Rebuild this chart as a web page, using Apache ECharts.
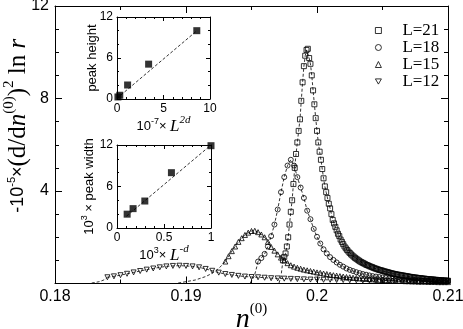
<!DOCTYPE html>
<html>
<head>
<meta charset="utf-8">
<script src="https://cdn.jsdelivr.net/npm/echarts@6/dist/echarts.min.js"></script>
<style>
html, body { margin: 0; padding: 0; background: #fff; }
#chart { width: 463px; height: 329px; }
</style>
</head>
<body>
<div id="chart"></div>
<script>
var grid21 = [0.1974, 0.0001];
var y21 = [1.0, 1.15, 1.3, 1.6, 2.0, 2.55, 3.1, 3.6, 4.3, 5.0, 5.6, 6.1, 6.6, 7.1, 7.9, 8.7, 9.4, 9.85, 10.1, 10.15,
  9.75, 9.5, 9.0, 8.35, 7.75, 7.15, 6.6, 6.1, 5.7, 5.35, 4.95, 4.55, 4.2, 3.95, 3.7, 3.45, 3.25, 3.0, 2.75, 2.6,
  2.45, 2.3, 2.15, 2.05, 1.9, 1.8, 1.7, 1.6, 1.52, 1.45, 1.38, 1.32, 1.26, 1.21, 1.16, 1.11, 1.07, 1.03, 0.99, 0.95,
  0.92, 0.89, 0.86, 0.83, 0.80, 0.78, 0.75, 0.73, 0.71, 0.68, 0.66, 0.64, 0.62, 0.60, 0.58, 0.57, 0.55, 0.53, 0.52, 0.50,
  0.49, 0.47, 0.45, 0.44, 0.43, 0.41, 0.40, 0.39, 0.38, 0.37, 0.36, 0.35, 0.34, 0.33, 0.32, 0.31, 0.30, 0.29, 0.28, 0.27,
  0.26, 0.26, 0.25, 0.24, 0.23, 0.23, 0.22, 0.21, 0.21, 0.20, 0.19, 0.19, 0.18, 0.18, 0.17, 0.17, 0.16, 0.16, 0.15, 0.15,
  0.14, 0.14, 0.13, 0.13, 0.13, 0.12, 0.12];

var grid18 = [0.1955, 0.00025];
var y18 = [0.95, 1.1, 1.28, 1.6, 2.05, 2.55, 3.2, 3.95, 4.6, 5.1, 5.35, 5.1, 4.6, 4.15, 3.7, 3.15, 2.78, 2.36, 2.02, 1.73,
  1.48, 1.3, 1.14, 1.02, 0.91, 0.81, 0.73, 0.65, 0.59, 0.54, 0.49, 0.45, 0.41, 0.38, 0.35, 0.32, 0.30, 0.28, 0.26, 0.24,
  0.22, 0.21, 0.20, 0.18, 0.17, 0.16, 0.15, 0.14, 0.14, 0.13, 0.12, 0.12, 0.11, 0.11, 0.10, 0.10, 0.09, 0.09, 0.09];

var grid15 = [0.193, 0.00025];
var y15 = [0.95, 1.18, 1.4, 1.6, 1.8, 1.96, 2.1, 2.2, 2.27, 2.28, 2.22, 2.12, 2.0, 1.8, 1.58, 1.42, 1.26, 1.12, 1.0, 0.88,
  0.79, 0.73, 0.68, 0.64, 0.60, 0.57, 0.54, 0.51, 0.48, 0.46, 0.43, 0.41, 0.38, 0.36, 0.34, 0.32, 0.30, 0.28, 0.27, 0.25,
  0.24, 0.22, 0.21, 0.20, 0.19, 0.18, 0.17, 0.16, 0.15, 0.14, 0.13, 0.13, 0.12, 0.11, 0.11, 0.10, 0.10, 0.09, 0.09, 0.08,
  0.08, 0.08, 0.07, 0.07, 0.07, 0.06, 0.06, 0.06, 0.06];

var grid12 = [0.184, 0.0005];
var y12 = [0.27, 0.31, 0.36, 0.42, 0.48, 0.54, 0.60, 0.65, 0.70, 0.74, 0.76, 0.77, 0.76, 0.74, 0.70, 0.63, 0.55, 0.47, 0.41, 0.37,
  0.33, 0.30, 0.28, 0.27, 0.25, 0.23, 0.22, 0.21, 0.20, 0.19, 0.18, 0.17, 0.17, 0.16, 0.16, 0.15, 0.15, 0.14, 0.14, 0.13,
  0.13, 0.13, 0.12, 0.12, 0.12, 0.11, 0.11, 0.11, 0.11, 0.10, 0.10, 0.10, 0.10];

// dashed fit curves below the first marker of each L
var tail21 = [[0.1971, 0.02], [0.19725, 0.3], [0.1974, 1.0]];
var tail18 = [[0.1949, 0.02], [0.1952, 0.3], [0.19535, 0.6], [0.1955, 0.95]];
var tail15 = [[0.1894, 0.02], [0.1907, 0.15], [0.1915, 0.3], [0.192, 0.44], [0.1925, 0.65], [0.193, 0.95]];
var tail12 = [[0.1828, 0.02], [0.1834, 0.08], [0.1838, 0.17], [0.184, 0.27]];

var names = ["L=21", "L=18", "L=15", "L=12"];

// inset 1: peak height vs 10^-7 L^2d
var hX = [0.1, 0.3, 1.14, 3.4, 8.58];
var hY = [0.3, 0.55, 2.05, 5.1, 10.0];
var hFit = [[0, 0.1], [8.6, 10.0]];

// inset 2: 10^3 peak width vs 10^3 L^-d
var wX = [0.108, 0.171, 0.296, 0.579, 1.0];
var wY = [2.0, 2.8, 3.9, 8.0, 11.9];
var wFit = [[0.1, 1.7], [1.0, 12.0]];

var sans = "Liberation Sans";
var serif = "Liberation Serif";

function pts (g, ys) {
  var out = [];
  for (var i = 0; i < ys.length; i++) {
    out.push([+(g[0] + i * g[1]).toFixed(5), ys[i]]);
  }
  return out;
}

function pairs (xs, ys) {
  var out = [];
  for (var i = 0; i < xs.length; i++) out.push([xs[i], ys[i]]);
  return out;
}

// one axis, with inward ticks; fs = 0 -> mirror axis without labels
function axis (gi, min, max, iv, minor, pos, big, fs, margin) {
  return {
    type: 'value', gridIndex: gi, min: min, max: max, interval: iv, position: pos,
    nameMoveOverlap: false,
    axisLine: { onZero: false, lineStyle: { color: '#000', width: 1 } },
    axisTick: { inside: true, length: big ? 7 : 4, lineStyle: { color: '#000' } },
    minorTick: { show: true, splitNumber: minor, length: big ? 4 : 2, lineStyle: { color: '#000' } },
    splitLine: { show: false },
    axisLabel: { show: fs > 0, color: '#000', fontFamily: sans, fontSize: fs, margin: margin }
  };
}

var xMain = axis(0, 0.18, 0.21, 0.01, 2, 'bottom', true, 16, 5);
xMain.name = '{i|n}{sup|(0)}';
xMain.nameLocation = 'middle';
xMain.nameGap = 18;
xMain.nameTextStyle = { rich: {
  i: { fontFamily: serif, fontStyle: 'italic', fontSize: 28, color: '#000' },
  sup: { fontFamily: serif, fontSize: 15, color: '#000', padding: [0, 0, 22, 0] }
} };

var yMain = axis(0, 0, 12, 4, 4, 'left', true, 16, 6);
yMain.axisLabel.formatter = function (v) { return v === 0 ? '' : v; };
yMain.name = '{s|-10}{ss|-5}{s|×}{r|(d/d}{i|n}{rs|(0)}{r|)}{rs|2}{r| ln }{i|r}';
yMain.nameLocation = 'middle';
yMain.nameRotate = 90;
yMain.nameGap = 20;
yMain.nameTextStyle = { padding: [0, 0, 0, 38], rich: {
  s: { fontFamily: sans, fontSize: 18, color: '#000' },
  ss: { fontFamily: sans, fontSize: 11, color: '#000', padding: [0, 0, 13, 0] },
  r: { fontFamily: serif, fontSize: 25, color: '#000' },
  i: { fontFamily: serif, fontStyle: 'italic', fontSize: 25, color: '#000' },
  rs: { fontFamily: serif, fontSize: 15, color: '#000', padding: [0, 0, 18, 0] }
} };

var smallRich = {
  a: { fontFamily: sans, fontSize: 13, color: '#000' },
  as: { fontFamily: sans, fontSize: 9, color: '#000', padding: [0, 0, 10, 0] },
  i: { fontFamily: serif, fontStyle: 'italic', fontSize: 17, color: '#000' },
  is: { fontFamily: serif, fontStyle: 'italic', fontSize: 11, color: '#000', padding: [0, 0, 12, 0] }
};

var x1 = axis(1, 0, 10, 5, 5, 'bottom', false, 12, 4);
x1.name = '{a|10}{as|-7}{a|× }{i|L}{is|2d}';
x1.nameLocation = 'middle';
x1.nameGap = 16;
x1.nameTextStyle = { rich: smallRich };
var y1 = axis(1, 0, 12, 6, 3, 'left', false, 12, 4);
y1.name = 'peak height';
y1.nameLocation = 'middle';
y1.nameGap = 18;
y1.nameTextStyle = { fontFamily: sans, fontSize: 13, color: '#000' };

var x2 = axis(2, 0, 1, 0.5, 5, 'bottom', false, 12, 4);
x2.name = '{a|10}{as|3}{a|× }{i|L}{is|-d}';
x2.nameLocation = 'middle';
x2.nameGap = 16;
x2.nameTextStyle = { rich: smallRich };
var y2 = axis(2, 0, 12, 6, 3, 'left', false, 12, 4);
y2.name = '{a|10}{as|3}{a| × peak width}';
y2.nameLocation = 'middle';
y2.nameGap = 18;
y2.nameTextStyle = { rich: smallRich };

var mark = { color: 'rgba(0,0,0,0)', borderColor: '#000', borderWidth: 0.8 };
var dash = { color: '#000', width: 0.8, type: [3, 2] };

function dataSeries (name, data, symbol, rot) {
  return {
    type: 'line', name: name, data: data, symbol: symbol, symbolSize: 5, symbolRotate: rot,
    showAllSymbol: true, itemStyle: mark, lineStyle: dash, z: 3
  };
}

// axis pair index: 0 main, 2 inset 1, 4 inset 2
function fitSeries (data, ai) {
  return {
    type: 'line', data: data, symbol: 'none', lineStyle: dash,
    xAxisIndex: ai || 0, yAxisIndex: ai || 0, z: 2
  };
}

function insetPoints (data, ai) {
  return {
    type: 'scatter', data: data, symbol: 'rect', symbolSize: 7, clip: false,
    itemStyle: { color: '#000' }, xAxisIndex: ai, yAxisIndex: ai, z: 4
  };
}

var legendItem = { color: 'rgba(0,0,0,0)', borderColor: '#000', borderWidth: 0.8 };

var option = {
  animation: false,
  backgroundColor: '#fff',
  grid: [
    { left: 55, top: 6, width: 393, height: 277.5, outerBoundsMode: 'none' },
    { left: 117, top: 17, width: 93, height: 82, outerBoundsMode: 'none' },
    { left: 117, top: 145, width: 94, height: 83, outerBoundsMode: 'none' }
  ],
  xAxis: [xMain, axis(0, 0.18, 0.21, 0.01, 2, 'top', true, 0, 0),
    x1, axis(1, 0, 10, 5, 5, 'top', false, 0, 0),
    x2, axis(2, 0, 1, 0.5, 5, 'top', false, 0, 0)],
  yAxis: [yMain, axis(0, 0, 12, 4, 4, 'right', true, 0, 0),
    y1, axis(1, 0, 12, 6, 3, 'right', false, 0, 0),
    y2, axis(2, 0, 12, 6, 3, 'right', false, 0, 0)],
  legend: {
    left: 375, top: 22, padding: 0, orient: 'vertical', itemWidth: 6, itemHeight: 6, itemGap: 0,
    textStyle: { fontFamily: serif, fontSize: 17, lineHeight: 13.5, color: '#000', padding: [0, 0, 0, 16] },
    data: [
      { name: names[0], icon: 'rect', itemStyle: legendItem },
      { name: names[1], icon: 'circle', itemStyle: legendItem },
      { name: names[2], icon: 'triangle', itemStyle: legendItem },
      { name: names[3], icon: 'path://M0,0L10,0L5,8.66Z', itemStyle: legendItem }
    ]
  },
  series: [
    fitSeries(tail21), fitSeries(tail18), fitSeries(tail15), fitSeries(tail12),
    dataSeries(names[0], pts(grid21, y21), 'rect', 0),
    dataSeries(names[1], pts(grid18, y18), 'circle', 0),
    dataSeries(names[2], pts(grid15, y15), 'triangle', 0),
    dataSeries(names[3], pts(grid12, y12), 'triangle', 180),
    fitSeries(hFit, 2), insetPoints(pairs(hX, hY), 2),
    fitSeries(wFit, 4), insetPoints(pairs(wX, wY), 4)
  ]
};

var chart = echarts.init(document.getElementById("chart"), null, { renderer: 'canvas' });
chart.setOption(option);
</script>
</body>
</html>
